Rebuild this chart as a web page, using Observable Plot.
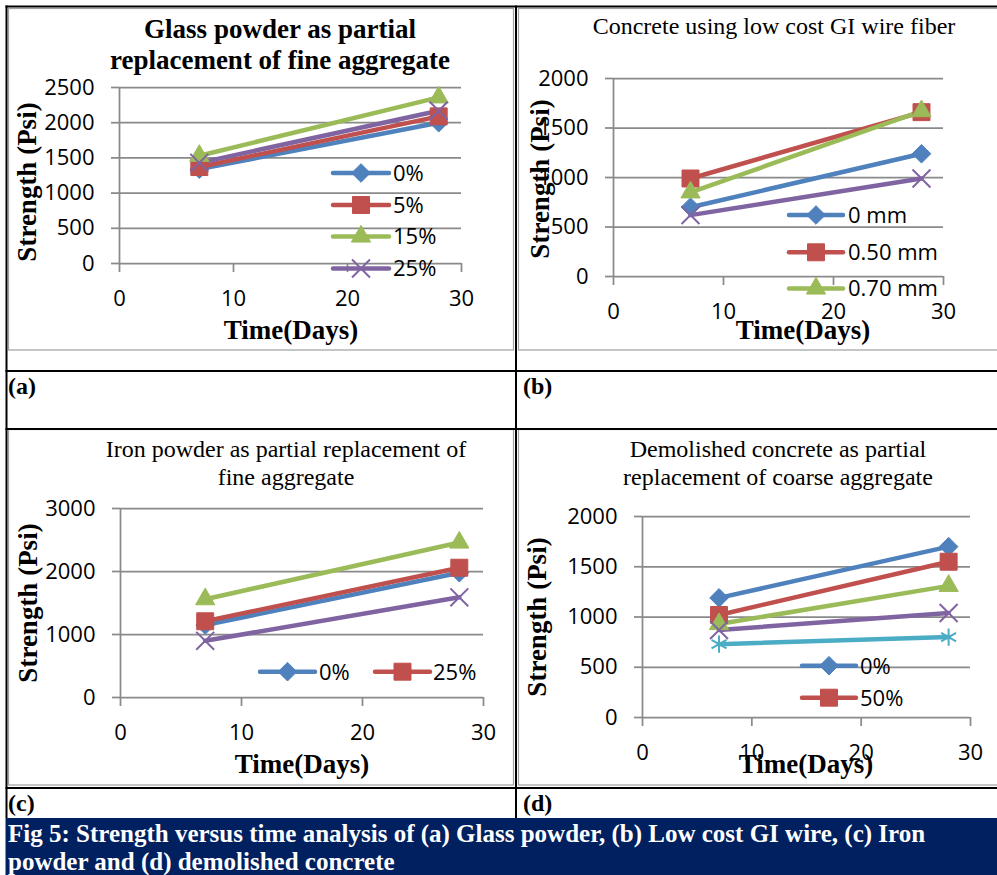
<!DOCTYPE html>
<html>
<head>
<meta charset="utf-8">
<script src="https://cdn.jsdelivr.net/npm/d3@7"></script>
<script src="https://cdn.jsdelivr.net/npm/@observablehq/plot@0.6"></script>
<style>
html, body { margin: 0; padding: 0; background: #fff; }
#fig { position: relative; width: 997px; height: 875px; overflow: hidden; background: #fff; }
#fig > svg { position: absolute; }
#overlay { left: 0; top: 0; pointer-events: none; }
</style>
</head>
<body>
<div id="fig"></div>
<script>
// ---------- data ----------
const days = [7, 28];
const xTicks = [0, 10, 20, 30];
const xLabel = "Time(Days)";
const yLabel = "Strength (Psi)";
const caption = ["Fig 5: Strength versus time analysis of (a) Glass powder, (b) Low cost GI wire, (c) Iron",
                 "powder and (d) demolished concrete"];

// (a) Glass powder
const glassTitle = ["Glass powder as partial", "replacement of fine aggregate"];
const glassLabels = ["0%", "5%", "15%", "25%"];
const glass0 = [1340, 2000];
const glass5 = [1370, 2090];
const glass15 = [1530, 2360];
const glass25 = [1430, 2170];
const glassYTicks = [0, 500, 1000, 1500, 2000, 2500];

// (b) GI wire fiber
const wireTitle = ["Concrete using low cost GI wire fiber"];
const wireLabels = ["0 mm", "0.50 mm", "0.70 mm", "Series 4"];
const wire0 = [700, 1240];
const wire050 = [990, 1660];
const wire070 = [850, 1670];
const wire4 = [620, 990];
const wireYTicks = [0, 500, 1000, 1500, 2000];

// (c) Iron powder
const ironTitle = ["Iron powder as partial replacement of", "fine aggregate"];
const ironLabels = ["0%", "25%", "Series 3", "Series 4"];
const iron0 = [1150, 1980];
const iron25 = [1210, 2060];
const iron3 = [1560, 2460];
const iron4 = [900, 1590];
const ironYTicks = [0, 1000, 2000, 3000];

// (d) Demolished concrete
const demoTitle = ["Demolished concrete as partial", "replacement of coarse aggregate"];
const demoLabels = ["0%", "50%", "Series 3", "Series 4", "Series 5"];
const demo0 = [1190, 1700];
const demo50 = [1020, 1550];
const demo3 = [930, 1310];
const demo4 = [870, 1040];
const demo5 = [730, 800];
const demoYTicks = [0, 500, 1000, 1500, 2000];

// ---------- styles ----------
const seriesColors = ["#4F81BD", "#C0504D", "#9BBB59", "#8064A2", "#4BACC6"];
const seriesSymbols = ["diamond2", "square2", "triangle2", "times", "asterisk"];
const d3Symbols = [d3.symbolDiamond2, d3.symbolSquare2, d3.symbolTriangle2, d3.symbolTimes, d3.symbolAsterisk];
const symbolR = [8.4, 10.8, 9.2, 8.2, 8.2];
const GRID = "#8a8a8a";
const SERIF = "'Liberation Serif', 'Times New Roman', serif";
const SANS = "'Open Sans', sans-serif";

const panels = [
  {names: glassLabels, values: [glass0, glass5, glass15, glass25], yTicks: glassYTicks, title: glassTitle,
   left: 8, top: 9, width: 506, height: 341, frameW: 505, mL: 111, mR: 53, mT: 78, mB: 87,
   titleX: 280, titleY: [37.5, 69], titleBold: true, yLab: [36, 182], xLab: [291, 339], tag: "(a)", tagPos: [8, 394],
   legend: {items: [0, 1, 2, 3], x0: 333, x1: 389, tx: 393, ys: [173, 205, 236.5, 268.5]}},
  {names: wireLabels, values: [wire0, wire050, wire070, wire4], yTicks: wireYTicks, title: wireTitle,
   left: 518, top: 9, width: 479, height: 341, frameW: 520, mL: 95, mR: 54, mT: 69, mB: 74,
   titleX: 774, titleY: [34], titleBold: false, yLab: [548.5, 179], xLab: [803, 339], tag: "(b)", tagPos: [523, 394],
   legend: {items: [0, 1, 2], x0: 789, x1: 843, tx: 848, ys: [215, 252.3, 288.5]}},
  {names: ironLabels, values: [iron0, iron25, iron3, iron4], yTicks: ironYTicks, title: ironTitle,
   left: 8, top: 430, width: 506, height: 355, frameW: 505, mL: 112, mR: 31, mT: 78, mB: 88,
   titleX: 286, titleY: [457, 485], titleBold: false, yLab: [37, 603], xLab: [302, 773], tag: "(c)", tagPos: [8, 811],
   legendH: {items: [0, 1], x0: [260, 375], x1: [315, 430], tx: [319, 433], y: 671.7}},
  {names: demoLabels, values: [demo0, demo50, demo3, demo4, demo5], yTicks: demoYTicks, title: demoTitle,
   left: 518, top: 430, width: 479, height: 355, frameW: 520, mL: 124, mR: 27, mT: 86, mB: 68,
   titleX: 778, titleY: [457, 485], titleBold: false, yLab: [546, 617], xLab: [806, 773], tag: "(d)", tagPos: [523, 811],
   legend: {items: [0, 1], x0: 802, x1: 856, tx: 860, ys: [665.7, 697.7]}}
];

const fig = document.getElementById("fig");

// ---------- plots ----------
for (const p of panels) {
  const rows = p.names.flatMap((name, i) => days.map((d, j) => ({series: name, day: d, value: p.values[i][j]})));
  const marks = [
    Plot.gridY({ticks: p.yTicks, stroke: GRID, strokeOpacity: 1, strokeWidth: 1.75}),
    Plot.ruleX([0], {stroke: GRID, strokeWidth: 1.75}),
    Plot.axisY({ticks: p.yTicks, tickFormat: "d", tickSize: 8, tickPadding: 17, stroke: GRID, strokeWidth: 1.75, fill: "#000", label: null}),
    Plot.axisX({ticks: xTicks, tickFormat: "d", tickSize: 9, tickPadding: 18, stroke: GRID, strokeWidth: 1.75, fill: "#000", label: null})
  ];
  p.names.forEach((name) => {
    marks.push(Plot.line(rows.filter((d) => d.series === name),
      {x: "day", y: "value", stroke: "series", strokeWidth: 4.5, strokeLinecap: "round", strokeLinejoin: "round"}));
  });
  p.names.forEach((name, i) => {
    const sym = seriesSymbols[i];
    const open = sym === "times" || sym === "asterisk";
    marks.push(Plot.dot(rows.filter((d) => d.series === name),
      {x: "day", y: "value", symbol: sym, r: symbolR[i], fill: open ? "none" : "series", stroke: "series", strokeWidth: open ? 2 : 1}));
  });
  const svg = Plot.plot({
    width: p.width, height: p.height,
    marginLeft: p.mL, marginRight: p.mR, marginTop: p.mT, marginBottom: p.mB,
    x: {domain: [0, 30]},
    y: {domain: [0, d3.max(p.yTicks)]},
    color: {domain: p.names, range: seriesColors.slice(0, p.names.length)},
    style: {fontFamily: SANS, fontSize: "22px", background: "transparent", overflow: "visible", color: "#000"},
    marks
  });
  svg.style.position = "absolute";
  svg.style.left = p.left + "px";
  svg.style.top = p.top + "px";
  svg.style.maxWidth = "none";
  fig.appendChild(svg);
}

// ---------- overlay: frames, texts, legends, caption ----------
const ov = d3.select(fig).append("svg").attr("id", "overlay").attr("width", 997).attr("height", 875);

// gray chart frames
for (const p of panels) {
  ov.append("rect").attr("x", p.left + 0.5).attr("y", p.top - 0.5).attr("width", p.frameW).attr("height", p.height + 0.5)
    .attr("fill", "none").attr("stroke", "#a0a0a0").attr("stroke-width", 1.2);
}
// black table lines
const hLines = [6.5, 371, 429, 788];
const vLines = [6.5, 516];
hLines.forEach((y) => ov.append("line").attr("x1", 5.5).attr("x2", 997).attr("y1", y).attr("y2", y).attr("stroke", "#000").attr("stroke-width", 2));
vLines.forEach((x) => ov.append("line").attr("x1", x).attr("x2", x).attr("y1", 5.5).attr("y2", 818).attr("stroke", "#000").attr("stroke-width", 2));

for (const p of panels) {
  const t = ov.append("text").attr("text-anchor", "middle").attr("font-family", SERIF)
    .attr("font-size", p.titleBold ? 27 : 24).attr("font-weight", p.titleBold ? "bold" : "normal").attr("fill", "#000");
  p.title.forEach((line, k) => t.append("tspan").attr("x", p.titleX).attr("y", p.titleY[k]).text(line));
  ov.append("text").attr("transform", `translate(${p.yLab[0]},${p.yLab[1]}) rotate(-90)`).attr("text-anchor", "middle")
    .attr("font-family", SERIF).attr("font-weight", "bold").attr("font-size", 27).text(yLabel);
  ov.append("text").attr("x", p.xLab[0]).attr("y", p.xLab[1]).attr("text-anchor", "middle")
    .attr("font-family", SERIF).attr("font-weight", "bold").attr("font-size", 27).text(xLabel);
  ov.append("text").attr("x", p.tagPos[0]).attr("y", p.tagPos[1]).attr("font-family", SERIF).attr("font-weight", "bold")
    .attr("font-size", 24).text(p.tag);
}

function swatch(i, x0, x1, y) {
  ov.append("line").attr("x1", x0).attr("x2", x1).attr("y1", y).attr("y2", y).attr("stroke", seriesColors[i])
    .attr("stroke-width", 4.5).attr("stroke-linecap", "round");
  const open = i >= 3;
  ov.append("path").attr("d", d3.symbol(d3Symbols[i], symbolR[i] * symbolR[i] * Math.PI)())
    .attr("transform", `translate(${(x0 + x1) / 2},${y})`)
    .attr("fill", open ? "none" : seriesColors[i]).attr("stroke", seriesColors[i]).attr("stroke-width", open ? 2 : 1);
}
function legendText(x, y, label) {
  ov.append("text").attr("x", x).attr("y", y).attr("dy", "0.36em").attr("font-family", SANS).attr("font-size", 22).text(label);
}
for (const p of panels) {
  if (p.legend) {
    const L = p.legend;
    L.items.forEach((i, k) => { swatch(i, L.x0, L.x1, L.ys[k]); legendText(L.tx, L.ys[k], p.names[i]); });
  }
  if (p.legendH) {
    const L = p.legendH;
    L.items.forEach((i, k) => { swatch(i, L.x0[k], L.x1[k], L.y); legendText(L.tx[k], L.y, p.names[i]); });
  }
}

// caption
ov.append("rect").attr("x", 5.5).attr("y", 818).attr("width", 992).attr("height", 57).attr("fill", "#002060");
const cap = ov.append("text").attr("font-family", SERIF).attr("font-weight", "bold").attr("font-size", 25).attr("fill", "#fff");
caption.forEach((line, k) => cap.append("tspan").attr("x", 8).attr("y", 842 + 28 * k).text(line));
</script>
</body>
</html>
